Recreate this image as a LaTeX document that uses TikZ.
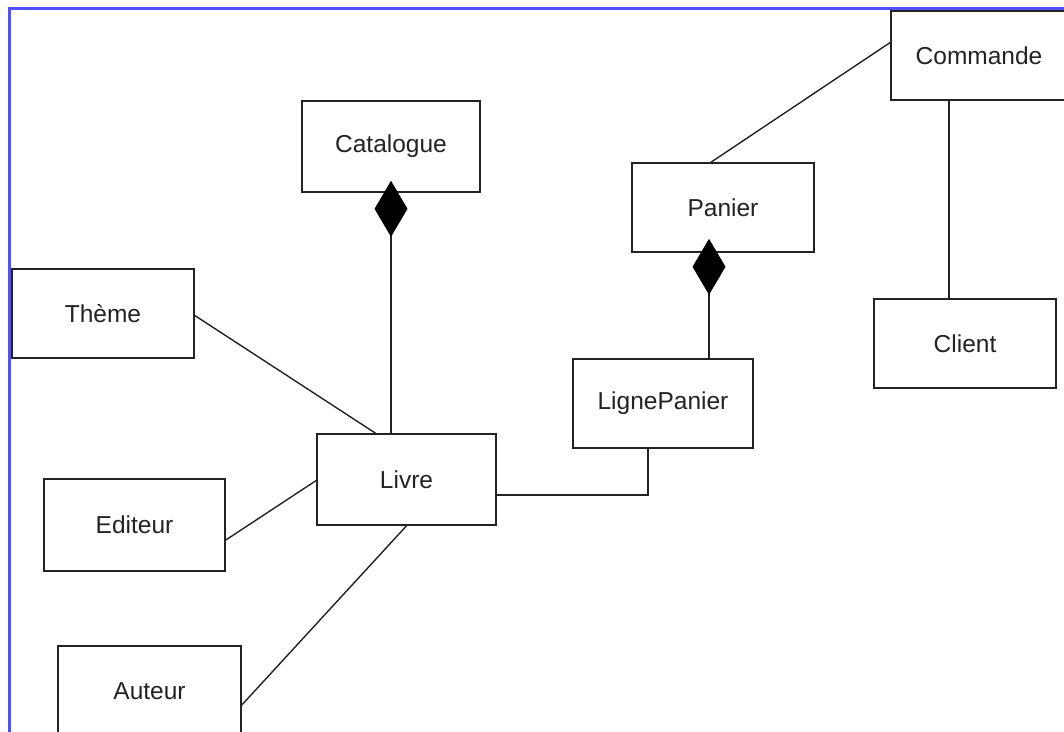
\documentclass[tikz,border=0pt]{standalone}
\usepackage{fontspec}
\setmainfont{Liberation Sans}
\usetikzlibrary{arrows.meta}
\definecolor{frameblue}{RGB}{80,80,255}
\definecolor{inkgray}{RGB}{35,35,35}
\tikzset{
  cls/.style={draw=inkgray, line width=1.6pt, fill=white, inner sep=0pt,
    font=\fontsize{24.5}{28}\selectfont, text=inkgray},
  assoc/.style={draw=inkgray, line width=1.4pt},
  compo/.style={assoc, -{Diamond[length=56pt, width=33pt, line width=0pt, color=black, fill=black]}}
}
\begin{document}
\begin{tikzpicture}[x=1pt,y=-1pt]
\useasboundingbox (0,0) rectangle (1064,731);
\clip (0,0) rectangle (1064,731);
\fill[white] (0,0) rectangle (1064,731);
% frame
\draw[frameblue, line width=3pt] (9,735) -- (9,8.5) -- (1068,8.5);
% classes
\node[cls, minimum width=178pt, minimum height=91pt] (catalogue) at (391,146.5) {Catalogue};
\node[cls, minimum width=182pt, minimum height=89pt] (panier) at (723,207.5) {Panier};
\node[cls, minimum width=176pt, minimum height=89pt] (commande) at (979,55.5) {Commande};
\node[cls, minimum width=182pt, minimum height=89pt] (client) at (965,343.5) {Client};
\node[cls, minimum width=182pt, minimum height=89pt] (theme) at (103,313.5) {Thème};
\node[cls, minimum width=179pt, minimum height=91pt] (livre) at (406.5,479.5) {Livre};
\node[cls, minimum width=180pt, minimum height=89pt] (lignepanier) at (663,403.5) {LignePanier};
\node[cls, minimum width=181pt, minimum height=92pt] (editeur) at (134.5,525) {Editeur};
\node[cls, minimum width=183pt, minimum height=91pt] (auteur) at (149.5,691.5) {Auteur};
% compositions
\draw[compo, shorten >=-12pt] (catalogue.south |- livre.north) -- (catalogue.south);
\draw[compo, shorten >=-14pt] (lignepanier.north -| 709,0) -- (panier.south -| 709,0);
% associations
\draw[assoc] ([yshift=13pt]commande.west) -- ([xshift=-12pt]panier.north);
\draw[assoc] (commande.south -| 949,0) -- (client.north -| 949,0);
\draw[assoc] ([yshift=-2pt]theme.east) -- ([xshift=-31pt]livre.north);
\draw[assoc] ([yshift=-15pt]editeur.east) -- ([yshift=-1pt]livre.west);
\draw[assoc] ([yshift=-13.5pt]auteur.east) -- (livre.south);
\draw[assoc] ([yshift=-15.5pt]livre.east) -| ([xshift=-15pt]lignepanier.south);
\end{tikzpicture}
\end{document}
